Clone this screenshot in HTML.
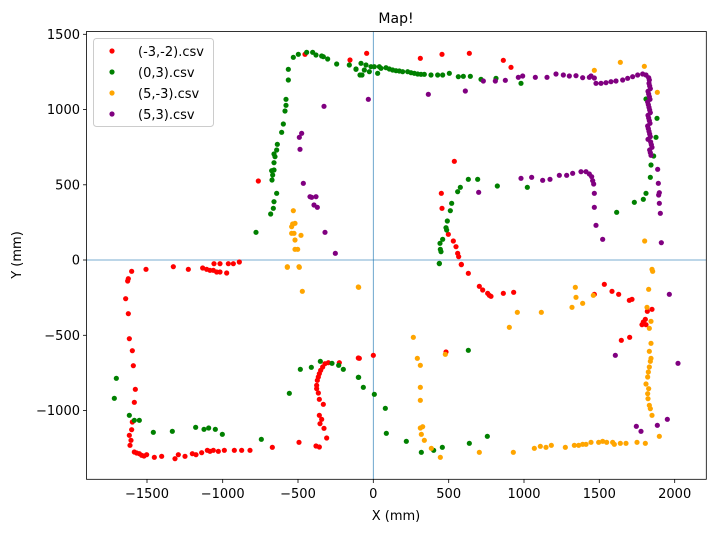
<!DOCTYPE html>
<html><head><meta charset="utf-8"><style>
body{margin:0;background:#fff;}
svg text{font-family:"DejaVu Sans","Liberation Sans",sans-serif;fill:#000;}
</style></head><body>
<svg id="s" width="716" height="532" xmlns="http://www.w3.org/2000/svg">
<rect width="716" height="532" fill="#fff"/>
<line x1="373.3" y1="31.5" x2="373.3" y2="479.3" stroke="#1f77b4" stroke-width="0.8" opacity="0.8"/>
<line x1="86.5" y1="260" x2="706.3" y2="260" stroke="#1f77b4" stroke-width="0.8" opacity="0.8"/>
<g id="pts"></g>
<rect x="86.5" y="31.5" width="619.8" height="447.8" fill="none" stroke="#000" stroke-width="0.8"/>
<g font-size="13" text-anchor="middle">
<text x="147" y="498">−1500</text><text x="222.7" y="498">−1000</text><text x="298" y="498">−500</text>
<text x="373.3" y="498">0</text><text x="448.7" y="498">500</text><text x="524" y="498">1000</text>
<text x="599.3" y="498">1500</text><text x="674.7" y="498">2000</text>
<text x="396" y="520">X (mm)</text>
<text x="396" y="23" font-size="14">Map!</text>
</g>
<g stroke="#000" stroke-width="0.8">
<line x1="147" y1="479.3" x2="147" y2="483"/><line x1="222.7" y1="479.3" x2="222.7" y2="483"/><line x1="298" y1="479.3" x2="298" y2="483"/><line x1="373.3" y1="479.3" x2="373.3" y2="483"/><line x1="448.7" y1="479.3" x2="448.7" y2="483"/><line x1="524" y1="479.3" x2="524" y2="483"/><line x1="599.3" y1="479.3" x2="599.3" y2="483"/><line x1="674.7" y1="479.3" x2="674.7" y2="483"/>
<line x1="83" y1="34.3" x2="86.5" y2="34.3"/><line x1="83" y1="109.5" x2="86.5" y2="109.5"/><line x1="83" y1="184.8" x2="86.5" y2="184.8"/><line x1="83" y1="260" x2="86.5" y2="260"/><line x1="83" y1="335.3" x2="86.5" y2="335.3"/><line x1="83" y1="410.5" x2="86.5" y2="410.5"/>
</g>
<g font-size="13" text-anchor="end">
<text x="80" y="39">1500</text><text x="80" y="114">1000</text><text x="80" y="189.5">500</text><text x="80" y="264.5">0</text><text x="80" y="340">−500</text><text x="80" y="415">−1000</text>
</g>
<text x="21" y="255" font-size="13" text-anchor="middle" transform="rotate(-90 21 255)">Y (mm)</text>
<rect x="93.5" y="38.5" width="120" height="88" rx="3" fill="#fff" fill-opacity="0.8" stroke="#ccc"/>
<circle cx="112" cy="51" r="2.6" fill="red"/><circle cx="112" cy="72" r="2.6" fill="green"/><circle cx="112" cy="93" r="2.6" fill="orange"/><circle cx="112" cy="114" r="2.6" fill="purple"/>
<g font-size="13"><text x="138" y="56">(-3,-2).csv</text><text x="138" y="77">(0,3).csv</text><text x="138" y="98">(5,-3).csv</text><text x="138" y="119">(5,3).csv</text></g>
</svg>
<script>
var g=document.getElementById('pts');
function add(c,ox,oy,a){for(var i=0;i<a.length;i+=2){var e=document.createElementNS('http://www.w3.org/2000/svg','circle');e.setAttribute('cx',ox+a[i]/3);e.setAttribute('cy',oy+a[i+1]/3);e.setAttribute('r',2.6);e.setAttribute('fill',c);g.appendChild(e);}}
// zoom1
add('red',0,0,[915,163,1050,180,775,543]);
add('green',0,0,[880,172,895,163,920,157,938,157,948,165,965,168,970,170,983,177,1010,192,1048,195,1068,208,1080,225,865,208,865,240,858,298,858,316,855,333,850,372,845,397,832,433,830,450,822,462,825,470,822,488,822,510,815,512,818,525,816,540,830,580,822,605,820,625,812,642,768,697]);
add('purple',0,0,[972,319,905,400,898,412,900,448,910,550,930,590,935,592,948,590,942,615,952,622,975,697,1006,760]);
add('orange',0,0,[880,632,878,672,885,670,875,680,875,700,882,700,885,720,885,748,893,748,903,706,862,800,897,800]);
// zoom2
add('red',356,0,[32,160,193,175,258,163,340,160,442,181,465,202,295,484,256,580,258,625,277,703,292,723,300,740,305,760,308,770,316,793]);
add('green',356,0,[0,207,15,190,18,225,25,210,30,195,40,215,45,200,55,200,65,220,70,200,75,205,90,203,100,207,110,210,120,212,130,213,140,215,155,215,165,218,175,220,185,222,195,223,205,223,225,225,245,225,260,225,280,220,307,230,322,229,343,229,375,238,420,235,495,250,870,297,903,355,900,412,893,468,885,495,883,532,870,580,862,598,835,607,782,637,337,538,365,538,313,562,305,575,287,610,283,632,274,663,270,683,272,690,260,718,252,730,253,748,255,755,250,790,424,558,514,562]);
var pv=[37,298,217,283,328,273,382,243,418,243,448,241,487,232,500,228,538,232,573,232,600,222,622,225,640,228,660,227,680,233,700,232,705,228,715,234,720,250,735,250,750,248,765,245,780,243,800,240,815,235,830,230,845,225,860,222,870,225,878,233,880,240,495,535,527,532,560,541,582,538,610,526,632,526,650,520,675,515,690,515,700,522,707,530,710,542,713,552,715,580,715,622,720,676,740,718,368,577,905,508,907,550,910,578,908,585,910,610,913,640,916,728];
for(var y=250;y<=470;y+=8){pv.push(878+((y*7)%9)-3+(y>420?6:0),y);}
add('purple',356,0,pv);
add('orange',356,0,[715,211,793,187,865,199,904,277,866,723,888,808]);
// zoom3
add('red',0,262,[395,28,385,50,383,57,377,110,385,155,388,230,397,266,400,311,406,382,403,421,397,480,395,503,388,520,393,535,390,550,403,570,410,573,418,575,425,580,432,582,440,578,463,586,485,583,525,590,535,578,555,583,577,575,588,578,605,572,622,565,630,568,640,565,655,568,673,565,703,565,725,565,750,565,817,556,897,541,948,552,958,555,980,528,972,499,965,472,958,460,960,485,970,427,958,412,955,393,950,380,950,370,952,355,955,345,958,335,962,325,968,315,975,305,985,302,1018,302,1075,288,438,22,520,14,565,22,608,18,620,22,630,25,640,25,650,30,660,30,680,33,642,5,660,5,685,5,700,5,718,0]);
add('green',0,262,[349,349,343,409,388,460,403,475,418,475,460,511,517,508,587,496,612,502,626,498,646,502,667,517,784,532,868,394,901,322,934,316,961,298,996,304,1016,310,1030,322,1075,346]);
add('orange',0,262,[862,16,898,16,907,88,1075,75]);
// zoom4
add('green',356,262,[250,5,8,346,22,376,55,397,88,439,91,514,151,538,196,571,233,565,259,556,340,544,394,523,337,265]);
add('red',356,262,[316,8,337,34,370,73,380,84,395,94,400,100,405,103,442,94,473,91,745,67,715,97,768,88,788,97,820,115,828,112,874,148,888,142,868,172,862,180,858,188,870,188,796,235,821,226,270,270,10,289,52,280]);
add('orange',356,262,[8,76,172,226,184,289,193,310,193,376,193,415,193,498,200,494,196,517,205,535,226,559,253,586,370,571,472,571,484,151,460,196,556,151,535,559,553,553,570,556,586,550,628,556,655,550,668,550,680,547,690,547,705,541,728,541,740,538,752,541,770,541,775,547,793,544,810,544,843,541,868,544,910,523,888,460,658,76,660,106,680,124,648,136,712,100,890,28,878,82,873,136,885,178,880,199,885,244,880,268,885,289,883,298,880,315,877,330,875,345,870,366,878,380,875,395,876,410,880,430,883,440,268,277]);
add('purple',356,262,[940,97,966,304,778,280,934,472,904,490,841,493,855,508]);
</script>
</body></html>
